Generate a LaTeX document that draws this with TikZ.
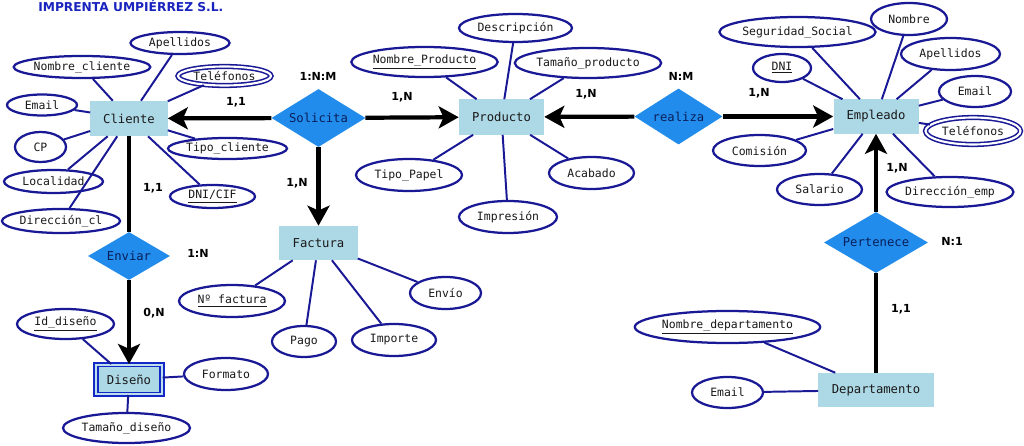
\documentclass[tikz,border=0pt]{standalone}
\usepackage{fontspec}
\usetikzlibrary{shapes.geometric, arrows.meta}
\newfontfamily\ermono{DejaVu Sans Mono}
\newfontfamily\ersans{DejaVu Sans}
\definecolor{entityfill}{RGB}{173,216,230}
\definecolor{relfill}{RGB}{33,140,235}
\definecolor{attrblue}{RGB}{25,25,150}
\definecolor{weakblue}{RGB}{20,40,200}
\definecolor{titleblue}{RGB}{25,35,190}
\definecolor{reltext}{RGB}{10,30,90}

\begin{document}
\begin{tikzpicture}[x=0.025cm, y=-0.025cm]
        \tikzstyle{entity}=[rectangle, fill=entityfill, inner sep=0pt, text=black!90, font=\ermono\fontsize{8.7}{10}\selectfont]
        \tikzstyle{weakentity}=[entity, draw=weakblue, line width=1pt, double=entityfill!80!white, double distance=1.6pt]
        \tikzstyle{relation}=[diamond, aspect=1.6, fill=relfill, inner sep=0pt, text=reltext, font=\ermono\fontsize{8.7}{10}\selectfont]
        \tikzstyle{attribute}=[ellipse, draw=attrblue, line width=1.6pt, fill=white, inner sep=0pt, text=black!90, font=\ermono\fontsize{8.15}{10}\selectfont]
        \tikzstyle{multivalued}=[attribute, line width=1.1pt, double=white, double distance=1.5pt]
        \tikzstyle{card}=[inner sep=0pt, font=\ersans\bfseries\fontsize{7.9}{9}\selectfont]
        \tikzstyle{link}=[draw=attrblue, line width=1.4pt]
        \tikzstyle{relline}=[line width=3pt]
        \tikzstyle{relarrow}=[line width=3pt, -{Stealth[length=0.5cm, width=0.55cm, inset=0.12cm]}]
        \useasboundingbox (0,0) rectangle (1024,446);

        \node[anchor=base west, inner sep=0pt, text=titleblue, font=\ersans\bfseries\fontsize{8.7}{10}\selectfont] (title) at (38,12) {IMPRENTA UMPIÉRREZ S.L.};

        % entidades
        \node[entity, minimum width=1.925cm, minimum height=0.875cm] (cliente) at (129,118.5) {Cliente};
        \node[entity, minimum width=2.125cm, minimum height=0.875cm] (producto) at (501.5,117) {Producto};
        \node[entity, minimum width=2.125cm, minimum height=0.85cm] (empleado) at (876,116.5) {Empleado};
        \node[entity, minimum width=1.95cm, minimum height=0.85cm] (factura) at (318.5,243) {Factura};
        \node[entity, minimum width=2.875cm, minimum height=0.85cm] (departamento) at (876,390) {Departamento};
        \node[weakentity, minimum width=1.65cm, minimum height=0.74cm] (diseno) at (129,379.5) {Diseño};

        % relaciones
        \node[relation, minimum width=2.35cm, minimum height=1.45cm] (solicita) at (318.5,118) {Solicita};
        \node[relation, minimum width=2.2cm, minimum height=1.4cm] (realiza) at (678.5,116.5) {realiza};
        \node[relation, minimum width=2.05cm, minimum height=1.2cm] (enviar) at (129,256) {Enviar};
        \node[relation, minimum width=2.6cm, minimum height=1.525cm] (pertenece) at (876,242.5) {Pertenece};

        % atributos de Cliente
        \node[attribute, minimum width=2.475cm, minimum height=0.55cm] (c-apellidos) at (180,43) {Apellidos};
        \node[attribute, minimum width=3.325cm, minimum height=0.55cm] (c-nombre) at (82,67) {Nombre\_cliente};
        \node[multivalued, minimum width=2.325cm, minimum height=0.475cm] (c-telefonos) at (224.5,76) {Teléfonos};
        \node[attribute, minimum width=1.75cm, minimum height=0.525cm] (c-email) at (42,105) {Email};
        \node[attribute, minimum width=1.275cm, minimum height=0.75cm] (c-cp) at (40.5,147) {CP};
        \node[attribute, minimum width=2.975cm, minimum height=0.525cm] (c-tipo) at (227.5,148.5) {Tipo\_cliente};
        \node[attribute, minimum width=2.475cm, minimum height=0.575cm] (c-localidad) at (53.5,181.5) {Localidad};
        \node[attribute, minimum width=2.125cm, minimum height=0.575cm] (c-dni) at (212.5,196.5) {\underline{DNI/CIF}};
        \node[attribute, minimum width=2.95cm, minimum height=0.6cm] (c-direccion) at (61,221) {Dirección\_cl};

        % atributos de Producto
        \node[attribute, minimum width=2.825cm, minimum height=0.7cm] (p-descripcion) at (515.5,28) {Descripción};
        \node[attribute, minimum width=3.525cm, minimum height=0.75cm] (p-nombre) at (424.5,62) {\underline{Nombre\_Producto}};
        \node[attribute, minimum width=3.5cm, minimum height=0.75cm] (p-tamano) at (588,63) {Tamaño\_producto};
        \node[attribute, minimum width=2.65cm, minimum height=0.8cm] (p-papel) at (409,175) {Tipo\_Papel};
        \node[attribute, minimum width=2.125cm, minimum height=0.8cm] (p-acabado) at (591.5,173) {Acabado};
        \node[attribute, minimum width=2.45cm, minimum height=0.8cm] (p-impresion) at (508,217) {Impresión};

        % atributos de Factura
        \node[attribute, minimum width=2.65cm, minimum height=0.8cm] (f-numero) at (232,301) {\underline{Nº factura}};
        \node[attribute, minimum width=1.6cm, minimum height=0.775cm] (f-pago) at (304,341.5) {Pago};
        \node[attribute, minimum width=2.1cm, minimum height=0.8cm] (f-importe) at (394,340) {Importe};
        \node[attribute, minimum width=1.775cm, minimum height=0.8cm] (f-envio) at (445.5,293) {Envío};

        % atributos de Diseño
        \node[attribute, minimum width=2.425cm, minimum height=0.75cm] (d-id) at (65.5,324) {\underline{Id\_diseño}};
        \node[attribute, minimum width=2.1cm, minimum height=0.8cm] (d-formato) at (226,374) {Formato};
        \node[attribute, minimum width=3.175cm, minimum height=0.75cm] (d-tamano) at (126.5,428) {Tamaño\_diseño};

        % atributos de Empleado
        \node[attribute, minimum width=3.475cm, minimum height=0.75cm] (e-seguridad) at (797.5,32) {Seguridad\_Social};
        \node[attribute, minimum width=1.9cm, minimum height=0.8cm] (e-nombre) at (909,19) {Nombre};
        \node[attribute, minimum width=1.45cm, minimum height=0.7cm] (e-dni) at (782,68) {\underline{DNI}};
        \node[attribute, minimum width=2.475cm, minimum height=0.8cm] (e-apellidos) at (950.5,54) {Apellidos};
        \node[attribute, minimum width=1.8cm, minimum height=0.775cm] (e-email) at (975,91.5) {Email};
        \node[multivalued, minimum width=2.375cm, minimum height=0.675cm] (e-telefonos) at (973,131) {Teléfonos};
        \node[attribute, minimum width=2.325cm, minimum height=0.775cm] (e-comision) at (759.5,150.5) {Comisión};
        \node[attribute, minimum width=2.125cm, minimum height=0.775cm] (e-salario) at (819.5,189.5) {Salario};
        \node[attribute, minimum width=3.15cm, minimum height=0.75cm] (e-direccion) at (950,192) {Dirección\_emp};

        % atributos de Departamento
        \node[attribute, minimum width=4.225cm, minimum height=0.8cm] (dep-nombre) at (727.5,327) {\underline{Nombre\_departamento}};
        \node[attribute, minimum width=1.775cm, minimum height=0.775cm] (dep-email) at (727.5,392.5) {Email};

        % lineas de atributos
        \draw[link] (cliente) -- (c-apellidos);
        \draw[link] (cliente) -- (c-nombre);
        \draw[link] (cliente) -- (c-telefonos);
        \draw[link] (cliente) -- (c-email);
        \draw[link] (cliente) -- (c-cp);
        \draw[link] (cliente) -- (c-tipo);
        \draw[link] (cliente) -- (c-localidad);
        \draw[link] (cliente) -- (c-dni);
        \draw[link] (cliente) -- (c-direccion);
        \draw[link] (producto) -- (p-descripcion);
        \draw[link] (producto) -- (p-nombre);
        \draw[link] (producto) -- (p-tamano);
        \draw[link] (producto) -- (p-papel);
        \draw[link] (producto) -- (p-acabado);
        \draw[link] (producto) -- (p-impresion);
        \draw[link] (factura) -- (f-numero);
        \draw[link] (factura) -- (f-pago);
        \draw[link] (factura) -- (f-importe);
        \draw[link] (factura) -- (f-envio);
        \draw[link] (diseno) -- (d-id);
        \draw[link] (diseno) -- (d-formato);
        \draw[link] (diseno) -- (d-tamano);
        \draw[link] (empleado) -- (e-seguridad);
        \draw[link] (empleado) -- (e-nombre);
        \draw[link] (empleado) -- (e-dni);
        \draw[link] (empleado) -- (e-apellidos);
        \draw[link] (empleado) -- (e-email);
        \draw[link] (empleado) -- (e-telefonos);
        \draw[link] (empleado) -- (e-comision);
        \draw[link] (empleado) -- (e-salario);
        \draw[link] (empleado) -- (e-direccion);
        \draw[link] (departamento) -- (dep-nombre);
        \draw[link] (departamento) -- (dep-email);

        % relaciones
        \draw[relarrow] (solicita) -- (cliente);
        \draw[relarrow] (solicita) -- (producto);
        \draw[relarrow] (solicita) -- (factura);
        \draw[relarrow] (realiza) -- (producto);
        \draw[relarrow] (realiza) -- (empleado);
        \draw[relline] (cliente) -- (enviar);
        \draw[relarrow] (enviar) -- (diseno);
        \draw[relarrow] (pertenece) -- (empleado);
        \draw[relline] (pertenece) -- (departamento);

        % cardinalidades
        \node[card] (card-solicita) at (318,76) {1:N:M};
        \node[card] (card-cliente) at (236,102) {1,1};
        \node[card] (card-producto-s) at (402,97) {1,N};
        \node[card] (card-factura) at (297,183) {1,N};
        \node[card] (card-cliente-e) at (153,188) {1,1};
        \node[card] (card-enviar) at (198,253) {1:N};
        \node[card] (card-diseno) at (154,313) {0,N};
        \node[card] (card-producto-r) at (586,94) {1,N};
        \node[card] (card-realiza) at (681,76) {N:M};
        \node[card] (card-empleado-r) at (759,93) {1,N};
        \node[card] (card-empleado-p) at (897,168) {1,N};
        \node[card] (card-pertenece) at (952,241) {N:1};
        \node[card] (card-departamento) at (901,309) {1,1};
\end{tikzpicture}
\end{document}
